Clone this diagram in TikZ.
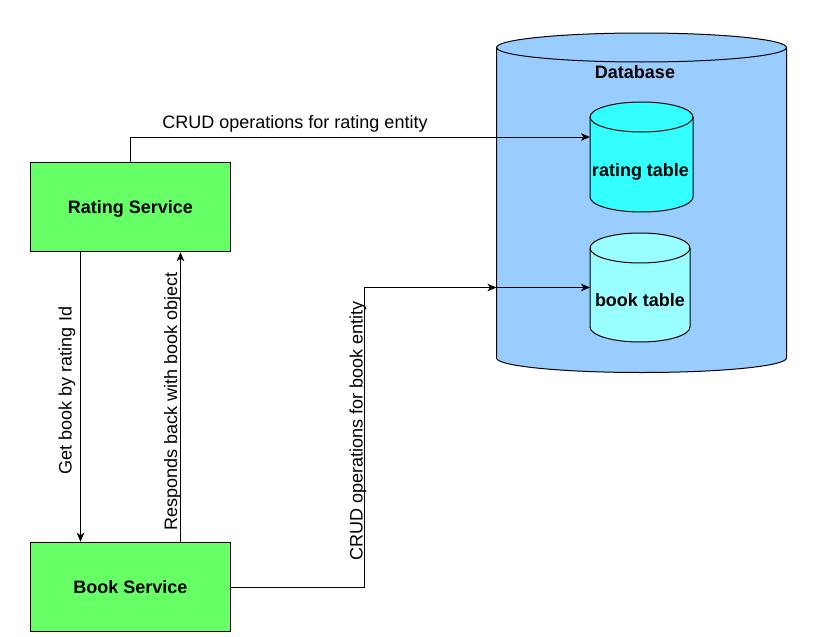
\documentclass[tikz,border=0pt]{standalone}
\usepackage{fontspec}
\setmainfont{Liberation Sans}
\usetikzlibrary{arrows.meta,calc}
\definecolor{svcgreen}{HTML}{66FF66}
\definecolor{dbblue}{HTML}{99CCFF}
\definecolor{ratcyan}{HTML}{33FFFF}
\definecolor{bookcyan}{HTML}{99FFFF}
\begin{document}
\begin{tikzpicture}[x=1pt,y=1pt,
  svc/.style={draw, fill=svcgreen, line width=1pt, minimum width=200pt, minimum height=89.5pt, inner sep=0pt, text height=13pt, text depth=0pt, font=\bfseries\fontsize{18}{22}\selectfont},
  ghost/.style={inner sep=0pt, outer sep=0pt},
  cyllabel/.style={font=\bfseries\fontsize{18}{22}\selectfont, inner sep=0pt, text height=13pt, text depth=0pt},
  lbl/.style={font=\fontsize{18}{22}\selectfont, inner sep=0pt},
  arr/.style={line width=1pt, -{Stealth[length=9pt,width=7.5pt,inset=2.5pt]}},
  cylline/.style={line width=1pt}]
\useasboundingbox (0,0) rectangle (820,-637);

% Database cylinder
\filldraw[cylline, fill=dbblue] (496.5,-47.5) -- (496.5,-358)
  arc[start angle=180,end angle=360,x radius=145,y radius=14.5] -- (786.5,-47.5)
  arc[start angle=0,end angle=180,x radius=145,y radius=14.5] -- cycle;
\draw[cylline] (496.5,-47.5) arc[start angle=180,end angle=360,x radius=145,y radius=14.5];
\node[ghost, minimum width=290pt, minimum height=339.5pt] (db) at (641.5,-202.75) {};
\node[cyllabel] (dblabel) at (635,-72) {Database};

% rating table cylinder
\filldraw[cylline, fill=ratcyan] (590,-117) -- (590,-197)
  arc[start angle=180,end angle=360,x radius=51.5,y radius=15] -- (693,-117)
  arc[start angle=0,end angle=180,x radius=51.5,y radius=15] -- cycle;
\draw[cylline] (590,-117) arc[start angle=180,end angle=360,x radius=51.5,y radius=15];
\node[ghost, minimum width=103pt, minimum height=110pt] (rt) at (641.5,-157) {};
\node[cyllabel] (rtlabel) at (640.5,-169.5) {rating table};

% book table cylinder
\filldraw[cylline, fill=bookcyan] (590,-248) -- (590,-327)
  arc[start angle=180,end angle=360,x radius=50,y radius=15] -- (690,-248)
  arc[start angle=0,end angle=180,x radius=50,y radius=15] -- cycle;
\draw[cylline] (590,-248) arc[start angle=180,end angle=360,x radius=50,y radius=15];
\node[ghost, minimum width=100pt, minimum height=109pt] (bk) at (640,-287.5) {};
\node[cyllabel] (bklabel) at (640,-300) {book table};

% services
\node[svc] (rating) at (130.5,-207) {Rating Service};
\node[svc] (book) at (130.5,-587) {Book Service};

% connectors
\coordinate (dbin) at (db.west |- bk.west);
\draw[arr] (rating.north) |- ([yshift=20pt]rt.west);
\draw[arr] ([xshift=-50pt]rating.south) -- ([xshift=-50pt]book.north);
\draw[arr] ([xshift=50pt]book.north) -- ([xshift=50pt]rating.south);
\draw[arr] (book.east) -- ++(133.5,0) |- (dbin);
\draw[arr] (dbin) -- (bk.west);

% labels
\node[lbl, anchor=base] (l1) at (295,-128.3) {CRUD operations for rating entity};
\node[lbl, rotate=90, anchor=base] (l2) at (71.7,-390.5) {Get book by rating Id};
\node[lbl, rotate=90, anchor=base] (l3) at (177,-401.5) {Responds back with book object};
\node[lbl, rotate=90, anchor=base] (l4) at (362.5,-431) {CRUD operations for book entity};
\end{tikzpicture}
\end{document}
